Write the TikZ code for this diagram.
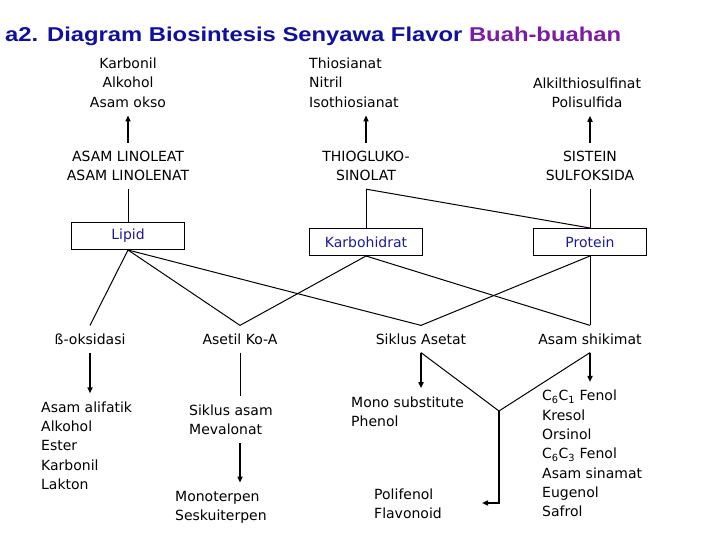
\documentclass[tikz,border=0pt]{standalone}
\usepackage{fontspec}
\setmainfont{DejaVu Sans}
\newfontfamily\titlefont{Liberation Sans}
\usetikzlibrary{arrows.meta, positioning, calc}
\definecolor{titleblue}{HTML}{1010A0}
\definecolor{titlepurple}{HTML}{7A1CA6}
\definecolor{labelblue}{HTML}{1A1A9C}
\tikzset{
    txt/.style={font=\fontsize{14}{19.3}\selectfont, inner xsep=0pt, inner ysep=8pt, align=center},
    lefttxt/.style={txt, align=left, anchor=west},
    box/.style={rectangle, draw=black, line width=1pt, minimum width=113pt, minimum height=27pt, inner sep=0pt, font=\fontsize{14}{17}\selectfont, text=labelblue},
    link/.style={line width=1pt, draw=black},
    arrow/.style={-{Triangle[length=6pt, width=5pt]}, line width=1.8pt, draw=black}
}

\begin{document}
\begin{tikzpicture}[x=1pt, y=-1pt]
\useasboundingbox (0,0) rectangle (720,540);
\node[anchor=base west, inner sep=0pt, font=\titlefont\bfseries\fontsize{20}{24}\selectfont] (title) at (5,42) {\scalebox{1.19}[1]{\textcolor{titleblue}{a2. Diagram Biosintesis Senyawa Flavor} \textcolor{titlepurple}{Buah-buahan}}};

% hasil akhir
\node[txt] (karbonil) at (128,82.5) {Karbonil\\Alkohol\\Asam okso};
\node[lefttxt] (thiosi) at (309,82.5) {Thiosianat\\Nitril\\Isothiosianat};
\node[txt] (alkil) at (587,92.5) {Alkilthiosulfinat\\Polisulfida};

% prekursor
\node[txt] (linol) at (128,166) {ASAM LINOLEAT\\ASAM LINOLENAT};
\node[txt] (thiogl) at (366,166) {THIOGLUKO-\\SINOLAT};
\node[txt] (sistein) at (590,166) {SISTEIN\\SULFOKSIDA};

\node[box] (lipid) at (128,236) {Lipid};
\node[box] (karbo) at (366,242) {Karbohidrat};
\node[box] (protein) at (590,242) {Protein};

\node[txt] (boks) at (90,339) {ß-oksidasi};
\node[txt] (asetil) at (240,339) {Asetil Ko-A};
\node[txt] (asetat) at (421,339) {Siklus Asetat};
\node[txt] (shikimat) at (590,339) {Asam shikimat};

\node[lefttxt] (alifatik) at (41,445.5) {Asam alifatik\\Alkohol\\Ester\\Karbonil\\Lakton};
\node[lefttxt] (mevalonat) at (189,419.5) {Siklus asam\\Mevalonat};
\node[lefttxt] (terpen) at (175,507) {Monoterpen\\Seskuiterpen};
\node[lefttxt] (monosub) at (351,411.5) {Mono substitute\\Phenol};
\node[lefttxt] (polif) at (374,503.5) {Polifenol\\Flavonoid};
\node[lefttxt] (fenol) at (542,453.5) {C\textsubscript{6}C\textsubscript{1} Fenol\\Kresol\\Orsinol\\C\textsubscript{6}C\textsubscript{3} Fenol\\Asam sinamat\\Eugenol\\Safrol};

\coordinate (tj) at (thiogl.south);
\coordinate (apex) at (499,411);
\coordinate (tip) at (482,503);

\draw[arrow] (linol) -- (karbonil);
\draw[arrow] (thiogl.north) -- (thiogl.north |- thiosi.south);
\draw[arrow] (sistein.north) -- (sistein.north |- alkil.south);

\draw[link] (linol) -- (lipid);
\draw[link] (tj) -- (karbo.north);
\draw[link] (tj) -- (protein.north);
\draw[link] (sistein) -- (protein);

\foreach \a/\b in {lipid/boks, lipid/asetil, lipid/asetat, karbo/asetil, karbo/shikimat, protein/asetat, protein/shikimat}
    \draw[link] (\a.south) -- (\b.north);

\draw[arrow] (boks.south) -- (boks.south |- alifatik.north);
\draw[link] (asetil.south) -- (asetil.south |- mevalonat.north);
\draw[arrow] (asetil.south |- mevalonat.south) -- (asetil.south |- terpen.north);
\draw[arrow] (asetat.south) -- (asetat.south |- monosub.north);
\draw[arrow] (shikimat.south) -- (shikimat.south |- fenol.north);
\draw[link] (asetat.south) -- (apex);
\draw[link] (shikimat.south) -- (apex);
\draw[arrow] (apex) |- (tip);
\end{tikzpicture}
\end{document}
